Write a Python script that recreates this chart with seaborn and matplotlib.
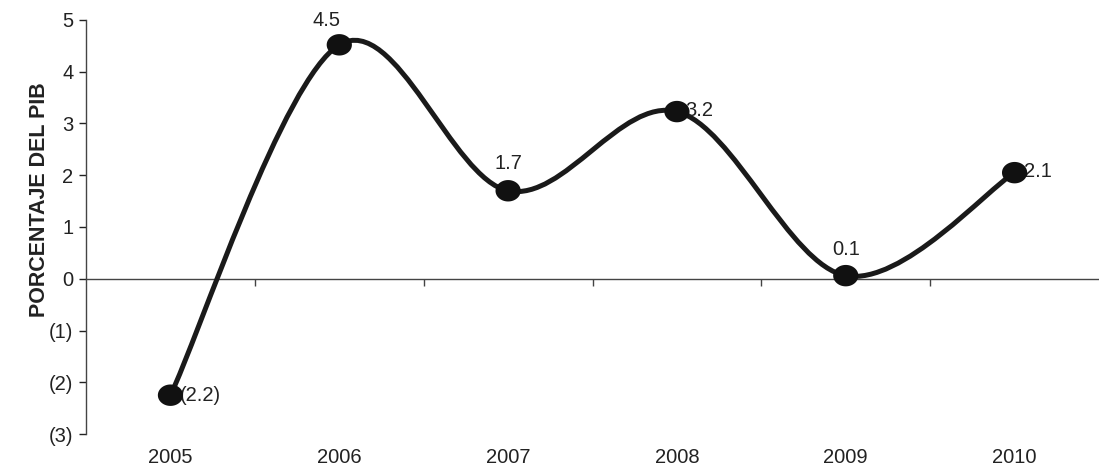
import numpy as np
import seaborn as sns
import matplotlib.pyplot as plt
from matplotlib.path import Path
from matplotlib.patches import PathPatch
from matplotlib.ticker import FuncFormatter

# Datos
anios = ["2005", "2006", "2007", "2008", "2009", "2010"]
valores = [-2.25, 4.52, 1.70, 3.23, 0.06, 2.05]
etiquetas = ["(2.2)", "4.5", "1.7", "3.2", "0.1", "2.1"]

sns.set_theme(style="white")
plt.rcParams['font.family'] = ['Liberation Sans', 'DejaVu Sans']

fig = plt.figure(figsize=(10.99, 4.69), dpi=100)
ax = fig.add_axes([0.0783, 0.0746, 0.9217, 0.8828])

x = np.arange(len(anios))
y = np.array(valores)

# curva suavizada (bezier estilo Excel)
pts = np.column_stack([x, y])
verts = [tuple(pts[0])]
codes = [Path.MOVETO]
n = len(pts)
for i in range(n - 1):
    p0 = pts[max(i - 1, 0)]
    p1 = pts[i]
    p2 = pts[i + 1]
    p3 = pts[min(i + 2, n - 1)]
    c1 = p1 + (p2 - p0) / 6
    c2 = p2 - (p3 - p1) / 6
    verts += [tuple(c1), tuple(c2), tuple(p2)]
    codes += [Path.CURVE4] * 3
ax.add_patch(PathPatch(Path(verts, codes), facecolor="none", edgecolor="#1a1a1a",
                       lw=3.6, capstyle="round", joinstyle="round", zorder=3))

# marcadores elipticos
t = np.linspace(0, 2 * np.pi, 60)
elipse = Path(np.column_stack([np.cos(t), 0.85 * np.sin(t)]))
sns.scatterplot(x=x, y=y, marker=elipse, s=330, color="#111111",
                edgecolor="none", ax=ax, zorder=4)

# etiquetas de datos
offsets = [(7, 0, "left", "center"), (-9, 11, "center", "bottom"),
           (0, 13, "center", "bottom"), (6, 1, "left", "center"),
           (0, 12, "center", "bottom"), (7, 1, "left", "center")]
for xi, yi, lab, (dx, dy, ha, va) in zip(x, y, etiquetas, offsets):
    ax.annotate(lab, (xi, yi), xytext=(dx, dy), textcoords="offset points",
                ha=ha, va=va, fontsize=14.5, color="#222222")

ax.set_xlim(-0.5, 5.5)
ax.set_ylim(-3, 5)
ax.set_yticks(range(-3, 6))
ax.yaxis.set_major_formatter(FuncFormatter(
    lambda v, p: f"({abs(int(v))})" if v < 0 else f"{int(v)}"))
ax.set_xticks(x)
ax.set_xticklabels(anios)
ax.tick_params(axis="x", length=0, labelsize=14.5, pad=10, colors="#222222")
ax.tick_params(axis="y", direction="out", length=5, width=1, left=True,
               labelsize=14.5, pad=4, colors="#222222")
for s in ["top", "right", "bottom"]:
    ax.spines[s].set_visible(False)
ax.spines["left"].set_color("#444444")
ax.spines["left"].set_linewidth(1)

# eje horizontal en cero con marcas entre categorias
sec = ax.secondary_xaxis(3 / 8)
sec.set_xticks(np.arange(0.5, 5.5, 1.0))
sec.set_xticklabels([])
sec.tick_params(direction="out", length=5, width=1, color="#444444")
sec.spines["bottom"].set_color("#444444")
sec.spines["bottom"].set_linewidth(1)

ax.set_ylabel("PORCENTAJE DEL PIB", fontsize=15.5, fontweight="bold",
              color="#222222", labelpad=10)
ax.yaxis.set_label_coords(-0.036, 0.565)

fig.savefig("out.png", dpi=100)
